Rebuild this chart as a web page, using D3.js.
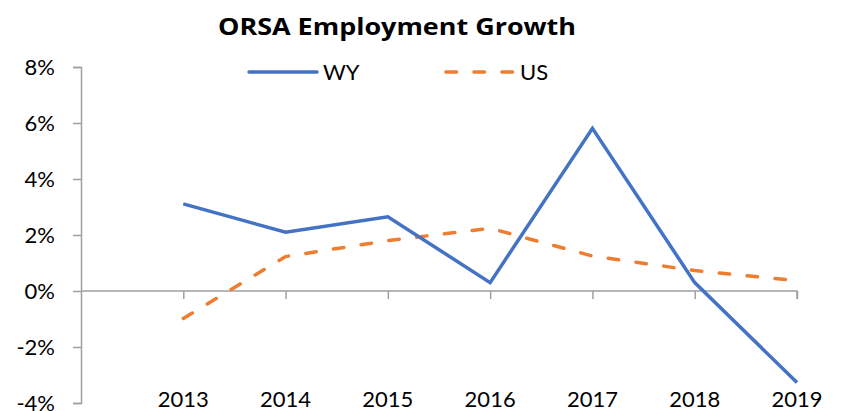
<!DOCTYPE html>
<html>
<head>
<meta charset="utf-8">
<script src="https://cdn.jsdelivr.net/npm/d3@7"></script>
<style>
  body { margin: 0; background: #fff; }
  text { font-family: Lato, "Open Sans", sans-serif; fill: #000; }
</style>
</head>
<body>
<div id="chart"></div>
<script>
// Chart data
const years = ["2013", "2014", "2015", "2016", "2017", "2018", "2019"];
const wyGrowth = [3.11, 2.10, 2.65, 0.30, 5.81, 0.30, -3.27];
const usGrowth = [-0.98, 1.23, 1.80, 2.24, 1.25, 0.73, 0.37];
const yTicks = [-4, -2, 0, 2, 4, 6, 8];

const W = 841, H = 411;
const plot = { left: 81, right: 797, top: 67, bottom: 403 };

const svg = d3.select("#chart").append("svg")
    .attr("width", W)
    .attr("height", H);

// Scales: first slot is empty so 2013 sits one step right of the y axis
const x = d3.scalePoint()
    .domain([""].concat(years))
    .range([plot.left, plot.right]);

const y = d3.scaleLinear()
    .domain([-4, 8])
    .range([plot.bottom, plot.top]);

const axisColor = "#a0a0a0";

// Y axis
const yAxis = svg.append("g")
    .attr("transform", `translate(${plot.left},0)`)
    .call(d3.axisLeft(y).tickValues(yTicks).tickSize(8).tickPadding(18)
        .tickFormat(d => d + "%"));
yAxis.select(".domain").attr("stroke", axisColor).attr("stroke-width", 1.5);
yAxis.selectAll(".tick line").attr("stroke", axisColor).attr("stroke-width", 1.5);
yAxis.selectAll(".tick text")
    .style("font-size", "22px")
    .attr("dy", "0.36em");

// X axis at 0%
const xAxis = svg.append("g")
    .attr("transform", `translate(0,${y(0)})`)
    .call(d3.axisBottom(x).tickValues(years).tickSize(8).tickFormat(() => ""));
xAxis.select(".domain").attr("stroke", axisColor).attr("stroke-width", 1.5)
    .attr("d", `M${plot.left},0H${plot.right}V8`);
xAxis.selectAll(".tick line").attr("stroke", axisColor).attr("stroke-width", 1.5);

// Year labels along the bottom
svg.append("g").selectAll("text")
    .data(years)
    .join("text")
    .attr("x", d => x(d))
    .attr("y", 407)
    .attr("text-anchor", "middle")
    .style("font-size", "22px")
    .text(d => d);

// Lines
const line = d3.line()
    .x((d, i) => x(years[i]))
    .y(d => y(d));

svg.append("path")
    .datum(usGrowth)
    .attr("fill", "none")
    .attr("stroke", "#ed7d31")
    .attr("stroke-width", 3.5)
    .attr("stroke-linecap", "round")
    .attr("stroke-dasharray", "10.5,17.5")
    .attr("d", line);

svg.append("path")
    .datum(wyGrowth)
    .attr("fill", "none")
    .attr("stroke", "#4472c4")
    .attr("stroke-width", 3.5)
    .attr("stroke-linejoin", "miter")
    .attr("d", line);

// Title
svg.append("text")
    .attr("x", 397)
    .attr("y", 35)
    .attr("text-anchor", "middle")
    .style("font-family", "'Open Sans', Lato, sans-serif")
    .style("font-size", "24px")
    .style("font-weight", "bold")
    .attr("textLength", 358)
    .attr("lengthAdjust", "spacingAndGlyphs")
    .text("ORSA Employment Growth");

// Legend
const legend = [
  { name: "WY", color: "#4472c4", dash: null, x: 249 },
  { name: "US", color: "#ed7d31", dash: "10.5,17.5", x: 446 }
];
const lg = svg.append("g").selectAll("g")
    .data(legend)
    .join("g")
    .attr("transform", d => `translate(${d.x},72)`);
lg.append("line")
    .attr("x1", 0).attr("x2", 68)
    .attr("stroke", d => d.color)
    .attr("stroke-width", 3.5)
    .attr("stroke-linecap", "round")
    .attr("stroke-dasharray", d => d.dash);
lg.append("text")
    .attr("x", 74)
    .attr("y", 0)
    .attr("dy", "0.36em")
    .style("font-size", "22px")
    .text(d => d.name);
</script>
</body>
</html>
